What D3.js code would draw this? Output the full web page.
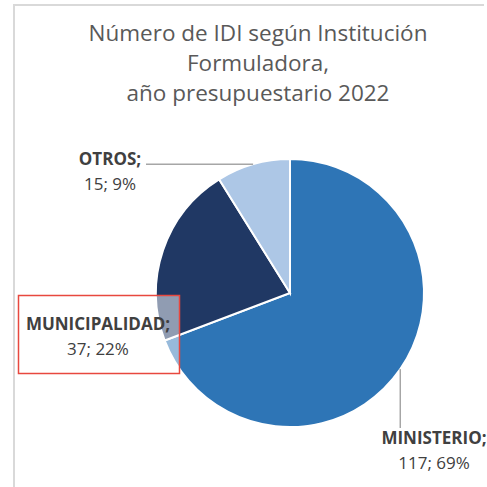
<!DOCTYPE html>
<html>
<head>
<meta charset="utf-8">
<script src="https://cdn.jsdelivr.net/npm/d3@7"></script>
<style>
  html, body { margin: 0; padding: 0; background: #fff; }
  svg { display: block; font-family: "Open Sans", Lato, sans-serif; }
</style>
</head>
<body>
<svg id="chart" width="487" height="487"></svg>
<script>
// data
const categories = ['MINISTERIO', 'MUNICIPALIDAD', 'OTROS'];
const counts = [117, 37, 15];
const percents = ['69%', '22%', '9%'];
const colors = ['#2e75b6', '#203864', '#adc7e6'];
const titleLines = ['Número de IDI según Institución', 'Formuladora,', 'año presupuestario 2022'];

let svg = d3.select('#chart');
let cx = 290, cy = 293, radius = 134;

// chart frame (only top and left edges show)
svg.append('path')
  .attr('d', 'M14,500 L14,5 L484,5')
  .attr('fill', 'none')
  .attr('stroke', '#d9d9d9')
  .attr('stroke-width', 2);

// title
svg.append('g')
  .selectAll('text')
  .data(titleLines)
  .join('text')
  .attr('x', 258)
  .attr('y', (d, i) => 41 + i * 30)
  .attr('text-anchor', 'middle')
  .attr('fill', '#595959')
  .attr('font-size', 22.5)
  .text(d => d);

let data = categories.map((c, i) => ({ name: c, value: counts[i], pct: percents[i], color: colors[i] }));

let pie = d3.pie().sort(null).value(d => d.value);
let arc = d3.arc().innerRadius(0).outerRadius(radius);
let arcs = pie(data);

let g = svg.append('g').attr('transform', `translate(${cx},${cy})`);

g.selectAll('path')
  .data(arcs)
  .join('path')
  .attr('d', arc)
  .attr('fill', d => d.data.color)
  .attr('stroke', '#fff')
  .attr('stroke-width', 2);

// point on the rim at the middle of a slice
function rimPoint(a) {
  let m = (a.startAngle + a.endAngle) / 2;
  return [cx + radius * Math.sin(m), cy - radius * Math.cos(m)];
}

// label layout
let labelPos = {
  MINISTERIO: { x: 434, y: 444 },
  MUNICIPALIDAD: { x: 98, y: 330 },
  OTROS: { x: 110, y: 165 }
};

// leader lines
let pm = rimPoint(arcs[0]);
svg.append('line')
  .attr('x1', pm[0]).attr('y1', pm[1])
  .attr('x2', pm[0]).attr('y2', 428)
  .attr('stroke', '#a6a6a6').attr('stroke-width', 1.5);

let po = rimPoint(arcs[2]);
svg.append('line')
  .attr('x1', 146).attr('y1', po[1])
  .attr('x2', po[0]).attr('y2', po[1])
  .attr('stroke', '#a6a6a6').attr('stroke-width', 1.5);

// highlighted box round the MUNICIPALIDAD label
svg.append('rect')
  .attr('x', 18.5).attr('y', 295.5)
  .attr('width', 161).attr('height', 78)
  .attr('fill', '#fff').attr('fill-opacity', 0.5)
  .attr('stroke', '#e8483f').attr('stroke-width', 1.5);

let labels = svg.append('g')
  .selectAll('text')
  .data(data)
  .join('text')
  .attr('text-anchor', 'middle')
  .attr('fill', '#404040')
  .attr('font-size', 17);

labels.append('tspan')
  .attr('x', d => labelPos[d.name].x)
  .attr('y', d => labelPos[d.name].y)
  .attr('font-weight', 'bold')
  .text(d => d.name + ';');

labels.append('tspan')
  .attr('x', d => labelPos[d.name].x)
  .attr('y', d => labelPos[d.name].y + 25)
  .text(d => d.value + '; ' + d.pct);
</script>
</body>
</html>
